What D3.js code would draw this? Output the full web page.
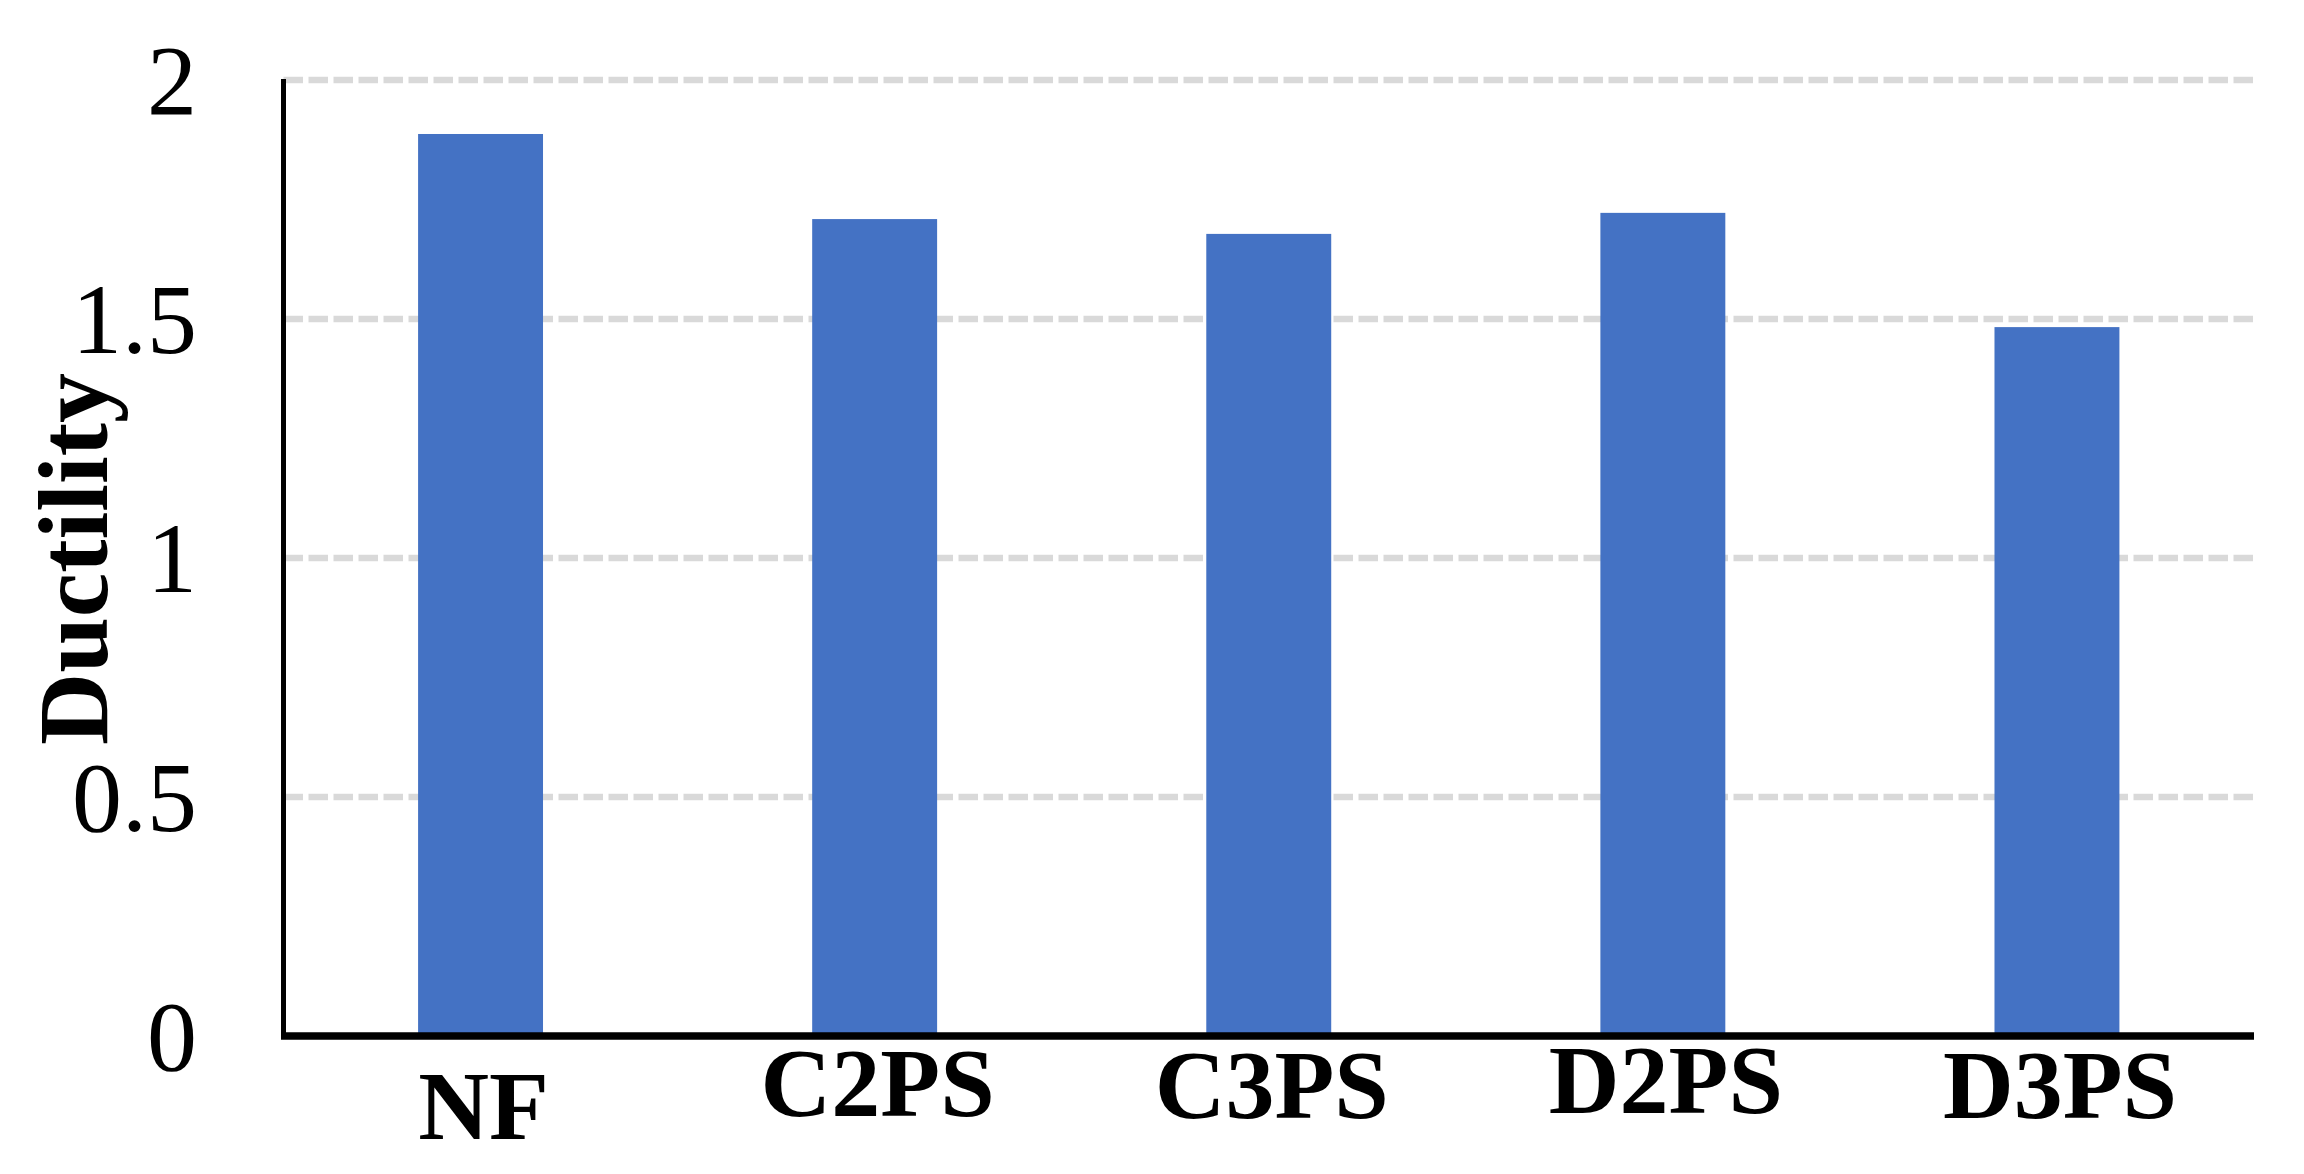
<!DOCTYPE html>
<html>
<head>
<meta charset="utf-8">
<script src="https://cdn.jsdelivr.net/npm/d3@7/dist/d3.min.js"></script>
<style>
  html, body { margin: 0; padding: 0; background: #ffffff; }
  svg { display: block; }
</style>
</head>
<body>
<script>
// ---- data ----
const categories = ["NF", "C2PS", "C3PS", "D2PS", "D3PS"];
const ductility = [1.886, 1.708, 1.677, 1.721, 1.482];
const yTicks = [0, 0.5, 1, 1.5, 2];
const yTickLabels = ["0", "0.5", "1", "1.5", "2"];
const yTitle = "Ductility";

// ---- layout ----
const W = 2304, H = 1174;
const x0 = 283.5, x1 = 2254;
const yTop = 79.5, yBottom = 1035.5;
const serif = "'Liberation Serif', 'Times New Roman', Times, serif";
// small per-label vertical nudges seen in the original
const labelNudge = { "NF": 24, "C2PS": 1, "C3PS": 3, "D2PS": -2, "D3PS": 3 };

const svg = d3.select("body").append("svg")
  .attr("width", W).attr("height", H);

const x = d3.scaleBand()
  .domain(categories)
  .range([x0, x1])
  .paddingInner(0.683)
  .paddingOuter(0.683 / 2);

const y = d3.scaleLinear()
  .domain([0, 2])
  .range([yBottom, yTop]);

// gridlines
const grid = svg.append("g")
  .attr("transform", `translate(${x0},0)`)
  .call(d3.axisLeft(y).tickValues(yTicks.filter(v => v > 0)).tickSize(-(x1 - x0)).tickFormat(""));
grid.select(".domain").remove();
grid.selectAll(".tick line")
  .attr("stroke", "#d9d9d9")
  .attr("stroke-width", 6.5)
  .attr("stroke-dasharray", "19.5,5.5");

// bars
svg.append("g").selectAll("rect")
  .data(categories.map((c, i) => ({ c, v: ductility[i] })))
  .join("rect")
  .attr("x", d => x(d.c))
  .attr("width", x.bandwidth())
  .attr("y", d => y(d.v))
  .attr("height", d => y(0) - y(d.v))
  .attr("fill", "#4472c4");

// y axis labels
const yAxis = svg.append("g")
  .attr("transform", `translate(${x0},0)`)
  .call(d3.axisLeft(y).tickValues(yTicks).tickSize(0).tickPadding(86.5)
    .tickFormat((d, i) => yTickLabels[i]));
yAxis.select(".domain").remove();
yAxis.selectAll("text")
  .attr("font-family", serif)
  .attr("font-size", 100)
  .attr("fill", "#000")
  .attr("dy", "0.34em");

// y axis line
svg.append("line")
  .attr("x1", x0).attr("x2", x0)
  .attr("y1", y(2) - 0.5).attr("y2", y(0))
  .attr("stroke", "#000").attr("stroke-width", 5);

// x axis
const xAxis = svg.append("g")
  .attr("transform", `translate(0,${yBottom + 0.5})`)
  .call(d3.axisBottom(x).tickSize(0).tickPadding(9));
xAxis.select(".domain").remove();
xAxis.selectAll("text")
  .attr("font-family", serif)
  .attr("font-weight", "bold")
  .attr("font-size", 98)
  .attr("fill", "#000")
  .attr("transform", d => `translate(3,${labelNudge[d] || 0})`);

svg.append("line")
  .attr("x1", x0 - 2.5).attr("x2", x1)
  .attr("y1", yBottom + 0.5).attr("y2", yBottom + 0.5)
  .attr("stroke", "#000").attr("stroke-width", 7.5);

// y title
svg.append("text")
  .attr("transform", `translate(107,559) rotate(-90)`)
  .attr("text-anchor", "middle")
  .attr("font-family", serif)
  .attr("font-weight", "bold")
  .attr("font-size", 100)
  .attr("fill", "#000")
  .text(yTitle);
</script>
</body>
</html>
